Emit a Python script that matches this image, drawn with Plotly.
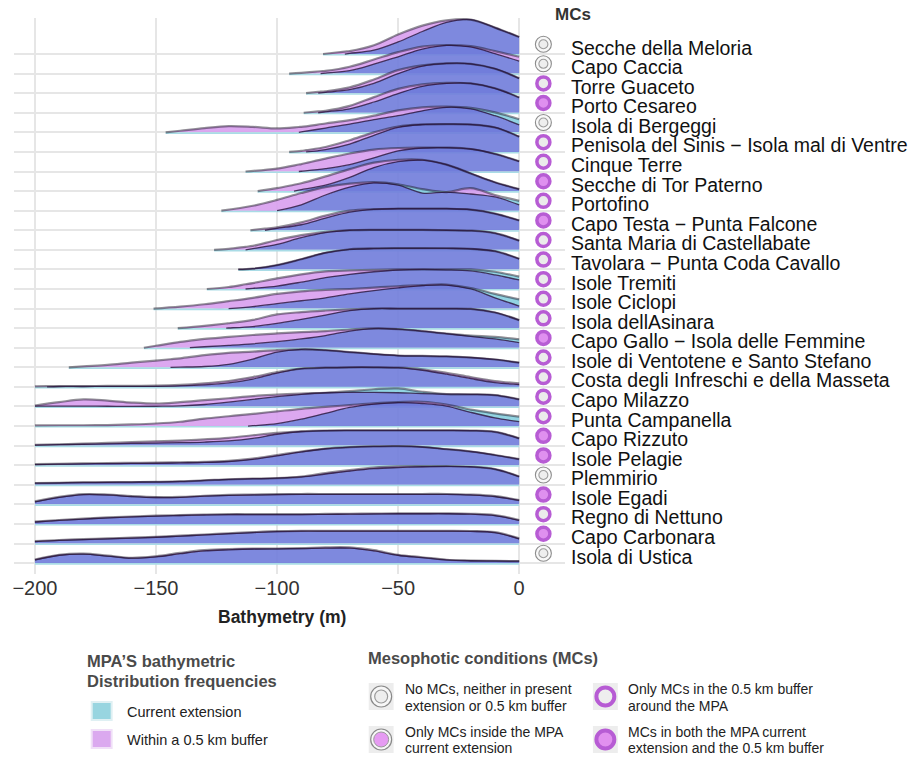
import numpy as np
import plotly.graph_objects as go

_ = None

# Bathymetry grid (m) on which the ridge heights were read
DEPTH = [-200, -190, -180, -170, -160, -150, -140, -130, -120, -110, -100,
         -90, -80, -70, -60, -50, -40, -30, -20, -10, 0]
X_TICKS = [-200, -150, -100, -50, 0]
X_TICK_TEXT = ["\u2212200", "\u2212150", "\u2212100", "\u221250", "0"]

MPA = [
    "Secche della Meloria", "Capo Caccia", "Torre Guaceto", "Porto Cesareo",
    "Isola di Bergeggi", "Penisola del Sinis \u2212 Isola mal di Ventre",
    "Cinque Terre", "Secche di Tor Paterno", "Portofino",
    "Capo Testa \u2212 Punta Falcone", "Santa Maria di Castellabate",
    "Tavolara \u2212 Punta Coda Cavallo", "Isole Tremiti", "Isole Ciclopi",
    "Isola dellAsinara", "Capo Gallo \u2212 Isola delle Femmine",
    "Isole di Ventotene e Santo Stefano", "Costa degli Infreschi e della Masseta",
    "Capo Milazzo", "Punta Campanella", "Capo Rizzuto", "Isole Pelagie",
    "Plemmirio", "Isole Egadi", "Regno di Nettuno", "Capo Carbonara",
    "Isola di Ustica",
]

# none / buffer / both
MC_CLASS = [
    "none", "none", "buffer", "both", "none", "buffer", "buffer", "both",
    "buffer", "both", "buffer", "buffer", "buffer", "buffer", "buffer", "both",
    "buffer", "buffer", "buffer", "buffer", "both", "both", "none", "both",
    "buffer", "both", "none",
]

# shallowest-start depth of each density (None = starts at first listed depth)
BUF_START = [-81, -95, -88, -89, -146, -95, -113, -108, -123, -111, -126, -116,
             -129, -151, -141, -155, -186, _, _, _, _, _, _, _, _, _, _]
CUR_START = [-72, -82, -83, -83, -91, -88, -91, -93, -100, -105, -113, -116,
             -113, -120, -121, -136, -144, -195, _, -112, _, _, _, _, _, _, _]

# Density heights (in row units) within a 0.5 km buffer
BUF = [
    [_, _, _, _, _, _, _, _, _, _, _, _, _, 0.15, 0.45, 1.00, 1.45, 1.72, 1.76, 1.35, 0.87],
    [_, _, _, _, _, _, _, _, _, _, _, 0.04, 0.14, 0.35, 0.72, 1.10, 1.38, 1.46, 1.40, 1.15, 0.86],
    [_, _, _, _, _, _, _, _, _, _, _, _, 0.10, 0.30, 0.70, 1.18, 1.42, 1.52, 1.50, 1.25, 0.76],
    [_, _, _, _, _, _, _, _, _, _, _, _, 0.10, 0.35, 0.80, 1.22, 1.45, 1.53, 1.50, 1.25, 0.78],
    [_, _, _, _, _, _, 0.08, 0.22, 0.32, 0.28, 0.20, 0.28, 0.45, 0.62, 0.85, 1.12, 1.28, 1.31, 1.20, 0.85, 0.38],
    [_, _, _, _, _, _, _, _, _, _, _, 0.05, 0.25, 0.60, 1.00, 1.30, 1.40, 1.42, 1.40, 1.25, 0.78],
    [_, _, _, _, _, _, _, _, _, _, 0.15, 0.38, 0.66, 0.92, 1.12, 1.20, 1.22, 1.22, 1.15, 0.90, 0.52],
    [_, _, _, _, _, _, _, _, _, _, 0.15, 0.40, 0.75, 1.12, 1.45, 1.60, 1.60, 1.35, 0.90, 0.45, 0.10],
    [_, _, _, _, _, _, _, _, _, 0.25, 0.55, 0.90, 1.20, 1.38, 1.46, 1.30, 0.90, 0.95, 1.15, 0.80, 0.29],
    [_, _, _, _, _, _, _, _, _, _, 0.15, 0.40, 0.75, 1.00, 1.08, 1.10, 1.10, 1.10, 1.05, 0.85, 0.50],
    [_, _, _, _, _, _, _, _, 0.05, 0.20, 0.50, 0.75, 0.92, 1.00, 1.02, 1.02, 1.02, 1.00, 0.98, 0.85, 0.47],
    [_, _, _, _, _, _, _, _, _, 0.04, 0.22, 0.52, 0.85, 1.02, 1.06, 1.07, 1.07, 1.07, 1.05, 0.93, 0.54],
    [_, _, _, _, _, _, _, _, 0.10, 0.30, 0.54, 0.75, 0.90, 0.95, 0.98, 1.00, 1.00, 0.98, 0.92, 0.72, 0.46],
    [_, _, _, _, _, _, 0.10, 0.22, 0.38, 0.55, 0.75, 0.88, 0.95, 1.00, 1.07, 1.14, 1.20, 1.23, 1.00, 0.55, 0.13],
    [_, _, _, _, _, _, _, 0.12, 0.25, 0.42, 0.70, 0.82, 0.90, 0.96, 1.00, 1.00, 1.00, 1.00, 0.98, 0.80, 0.41],
    [_, _, _, _, _, 0.10, 0.30, 0.45, 0.55, 0.65, 0.73, 0.80, 0.85, 0.93, 0.99, 0.95, 0.85, 0.72, 0.58, 0.45, 0.26],
    [_, _, 0.05, 0.12, 0.24, 0.34, 0.46, 0.62, 0.74, 0.80, 0.88, 0.92, 0.88, 0.78, 0.68, 0.60, 0.58, 0.56, 0.50, 0.40, 0.24],
    [0.03, 0.04, 0.04, 0.05, 0.05, 0.06, 0.10, 0.18, 0.30, 0.50, 0.75, 0.93, 0.98, 1.00, 1.00, 0.98, 0.90, 0.72, 0.50, 0.30, 0.18],
    [0.05, 0.22, 0.36, 0.30, 0.20, 0.15, 0.22, 0.32, 0.42, 0.53, 0.60, 0.66, 0.70, 0.72, 0.72, 0.70, 0.66, 0.63, 0.62, 0.58, 0.36],
    [0.03, 0.04, 0.04, 0.05, 0.08, 0.13, 0.22, 0.38, 0.50, 0.62, 0.75, 0.88, 0.98, 1.07, 1.16, 1.22, 1.24, 1.10, 0.70, 0.42, 0.22],
    [0.04, 0.07, 0.10, 0.14, 0.18, 0.22, 0.26, 0.32, 0.40, 0.53, 0.65, 0.73, 0.77, 0.78, 0.78, 0.78, 0.78, 0.78, 0.77, 0.70, 0.37],
    [0.05, 0.07, 0.09, 0.11, 0.12, 0.13, 0.15, 0.17, 0.22, 0.34, 0.52, 0.70, 0.85, 0.92, 0.96, 0.97, 0.93, 0.82, 0.70, 0.52, 0.31],
    [0.08, 0.10, 0.12, 0.13, 0.14, 0.15, 0.17, 0.22, 0.28, 0.31, 0.34, 0.42, 0.60, 0.75, 0.88, 0.94, 0.95, 0.95, 0.92, 0.80, 0.42],
    [0.15, 0.38, 0.52, 0.50, 0.42, 0.37, 0.38, 0.44, 0.48, 0.50, 0.52, 0.53, 0.53, 0.53, 0.53, 0.53, 0.53, 0.53, 0.50, 0.42, 0.22],
    [0.12, 0.20, 0.27, 0.33, 0.38, 0.42, 0.45, 0.48, 0.50, 0.50, 0.50, 0.50, 0.51, 0.52, 0.53, 0.54, 0.54, 0.54, 0.52, 0.45, 0.20],
    [0.12, 0.18, 0.22, 0.26, 0.30, 0.34, 0.40, 0.46, 0.52, 0.58, 0.63, 0.65, 0.65, 0.65, 0.65, 0.65, 0.65, 0.65, 0.64, 0.58, 0.26],
    [0.18, 0.42, 0.48, 0.38, 0.27, 0.35, 0.52, 0.66, 0.72, 0.74, 0.74, 0.76, 0.80, 0.80, 0.66, 0.42, 0.30, 0.17, 0.13, 0.11, 0.10],
]

# Density heights (in row units) in the current MPA extension
CUR = [
    [_, _, _, _, _, _, _, _, _, _, _, _, _, _, 0.20, 0.62, 1.15, 1.62, 1.76, 1.35, 0.87],
    [_, _, _, _, _, _, _, _, _, _, _, _, _, 0.15, 0.48, 0.86, 1.25, 1.44, 1.36, 1.02, 0.64],
    [_, _, _, _, _, _, _, _, _, _, _, _, _, 0.18, 0.50, 1.00, 1.38, 1.52, 1.50, 1.25, 0.76],
    [_, _, _, _, _, _, _, _, _, _, _, _, _, 0.20, 0.55, 0.98, 1.35, 1.50, 1.50, 1.25, 0.78],
    [_, _, _, _, _, _, _, _, _, _, _, _, 0.22, 0.42, 0.65, 0.85, 1.10, 1.28, 1.25, 1.02, 0.67],
    [_, _, _, _, _, _, _, _, _, _, _, _, 0.12, 0.40, 0.85, 1.25, 1.40, 1.42, 1.40, 1.25, 0.78],
    [_, _, _, _, _, _, _, _, _, _, _, _, 0.15, 0.35, 0.70, 1.05, 1.20, 1.22, 1.15, 0.90, 0.52],
    [_, _, _, _, _, _, _, _, _, _, _, _, 0.30, 0.70, 1.20, 1.50, 1.58, 1.35, 0.90, 0.45, 0.10],
    [_, _, _, _, _, _, _, _, _, _, _, 0.30, 0.80, 1.20, 1.42, 1.35, 1.10, 0.95, 0.85, 0.70, 0.50],
    [_, _, _, _, _, _, _, _, _, _, _, 0.28, 0.62, 0.93, 1.07, 1.10, 1.10, 1.10, 1.05, 0.85, 0.50],
    [_, _, _, _, _, _, _, _, _, _, 0.28, 0.62, 0.88, 1.00, 1.02, 1.02, 1.02, 1.00, 0.98, 0.85, 0.47],
    [_, _, _, _, _, _, _, _, _, 0.04, 0.22, 0.52, 0.85, 1.03, 1.08, 1.09, 1.09, 1.08, 1.05, 0.93, 0.54],
    [_, _, _, _, _, _, _, _, _, _, 0.15, 0.35, 0.58, 0.75, 0.88, 0.97, 1.00, 1.00, 1.00, 0.88, 0.63],
    [_, _, _, _, _, _, _, _, _, 0.10, 0.25, 0.40, 0.55, 0.75, 0.92, 1.06, 1.17, 1.20, 1.05, 0.75, 0.47],
    [_, _, _, _, _, _, _, _, _, 0.08, 0.24, 0.45, 0.67, 0.90, 1.00, 1.00, 1.00, 1.00, 0.98, 0.80, 0.41],
    [_, _, _, _, _, _, _, 0.05, 0.12, 0.20, 0.31, 0.45, 0.62, 0.85, 0.98, 0.95, 0.85, 0.72, 0.62, 0.55, 0.43],
    [_, _, _, _, _, _, _, 0.04, 0.15, 0.42, 0.78, 0.92, 0.88, 0.78, 0.68, 0.60, 0.58, 0.56, 0.50, 0.40, 0.24],
    [_, 0.02, 0.02, 0.03, 0.03, 0.03, 0.05, 0.10, 0.20, 0.40, 0.70, 0.93, 0.98, 1.00, 1.00, 0.98, 0.85, 0.65, 0.42, 0.22, 0.12],
    [0.02, 0.02, 0.02, 0.01, 0.00, 0.01, 0.03, 0.10, 0.22, 0.36, 0.50, 0.62, 0.70, 0.78, 0.88, 0.92, 0.75, 0.63, 0.62, 0.58, 0.36],
    [_, _, _, _, _, _, _, _, _, _, 0.12, 0.35, 0.65, 0.95, 1.12, 1.20, 1.15, 1.02, 0.84, 0.65, 0.48],
    [0.03, 0.05, 0.07, 0.09, 0.11, 0.13, 0.15, 0.18, 0.24, 0.37, 0.58, 0.72, 0.77, 0.78, 0.78, 0.78, 0.78, 0.78, 0.77, 0.70, 0.37],
    [0.03, 0.05, 0.07, 0.08, 0.09, 0.10, 0.12, 0.14, 0.19, 0.30, 0.48, 0.68, 0.84, 0.92, 0.96, 0.97, 0.93, 0.82, 0.70, 0.52, 0.31],
    [0.08, 0.10, 0.12, 0.13, 0.14, 0.15, 0.17, 0.22, 0.28, 0.31, 0.34, 0.40, 0.55, 0.70, 0.82, 0.88, 0.92, 0.94, 0.92, 0.80, 0.42],
    [0.13, 0.36, 0.50, 0.48, 0.40, 0.35, 0.36, 0.42, 0.46, 0.48, 0.50, 0.51, 0.51, 0.51, 0.51, 0.51, 0.51, 0.51, 0.48, 0.40, 0.20],
    [0.10, 0.18, 0.25, 0.31, 0.36, 0.40, 0.43, 0.46, 0.48, 0.48, 0.48, 0.48, 0.49, 0.50, 0.51, 0.52, 0.52, 0.52, 0.50, 0.43, 0.18],
    [0.10, 0.16, 0.20, 0.24, 0.28, 0.32, 0.38, 0.44, 0.50, 0.56, 0.61, 0.63, 0.63, 0.63, 0.63, 0.63, 0.63, 0.63, 0.62, 0.56, 0.24],
    [0.16, 0.40, 0.46, 0.36, 0.25, 0.32, 0.48, 0.62, 0.68, 0.72, 0.73, 0.74, 0.76, 0.76, 0.62, 0.40, 0.28, 0.16, 0.12, 0.11, 0.10],
]

# ---------------------------------------------------------------- styling
FONT = "Liberation Sans, Arial, Helvetica, sans-serif"
C_BLUE = "rgba(112,124,218,0.90)"
C_VIOLET = "rgba(216,158,238,0.90)"
C_CYAN = "rgba(134,207,223,0.90)"
LINE_HI = "rgba(25,20,35,0.48)"
LINE_LO = "rgba(40,20,60,0.82)"
RING = "#b75cd4"

W, H = 917, 757
PL, PR, PT, PB = 12, 565, 18, 574          # plot-area box in px
X_RANGE = [-208.64, 18.93]
NROW = len(MPA)
Y_RANGE = [-0.557, 27.84]


def PX(p):
    return (p - PL) / (PR - PL)


def PY(p):
    return (PB - p) / (PB - PT)


def curve(start, vals):
    xs, ys = [], []
    if start is not None:
        xs.append(float(start))
        ys.append(0.0)
    for d, v in zip(DEPTH, vals):
        if v is not None:
            xs.append(float(d))
            ys.append(float(v))
    return np.array(xs), np.array(ys)


fig = go.Figure()
common = dict(mode="lines", hoverinfo="skip", showlegend=False)

for i in range(NROW):
    yb = (NROW - 1) - i
    bx, by = curve(BUF_START[i], BUF[i])
    cx, cy = curve(CUR_START[i], CUR[i])
    ux = np.array(sorted(set(bx.tolist()) | set(cx.tolist())))
    bu = np.interp(ux, bx, by, left=0.0)
    cu = np.interp(ux, cx, cy, left=0.0)
    lo = np.minimum(bu, cu)
    hi = np.maximum(bu, cu)
    later = max(bx[0], cx[0])
    sp = dict(width=0, shape="spline", smoothing=1.0)

    fig.add_trace(go.Scatter(x=ux, y=np.full(len(ux), yb), line=sp, **common))
    fig.add_trace(go.Scatter(x=ux, y=yb + lo, line=sp, fill="tonexty",
                             fillcolor=C_BLUE, **common))
    fig.add_trace(go.Scatter(x=ux, y=yb + bu, line=sp, fill="tonexty",
                             fillcolor=C_VIOLET, **common))
    fig.add_trace(go.Scatter(x=ux, y=yb + lo, line=sp, **common))
    fig.add_trace(go.Scatter(x=ux, y=yb + cu, line=sp, fill="tonexty",
                             fillcolor=C_CYAN, **common))
    # light strip along the ridge base
    fig.add_trace(go.Scatter(x=[ux[0], 0], y=[yb - 0.04, yb - 0.04],
                             line=dict(color="#a9dce6", width=1.6), **common))
    # outlines
    fig.add_trace(go.Scatter(x=ux, y=yb + hi,
                             line=dict(color=LINE_HI, width=2.2, shape="spline"),
                             **common))
    m = ux >= later
    fig.add_trace(go.Scatter(x=ux[m], y=yb + lo[m],
                             line=dict(color=LINE_LO, width=1.3, shape="spline"),
                             **common))

# MC markers
rows = np.arange(NROW)
ybase = (NROW - 1) - rows
cls = np.array(MC_CLASS)
mx = 10
sel = cls == "none"
fig.add_trace(go.Scatter(x=[mx] * sel.sum(), y=ybase[sel] + 0.5, mode="markers",
                         marker=dict(size=16, color="#f8f8f8",
                                     line=dict(color="#8c8c8c", width=1.1)),
                         hoverinfo="skip", showlegend=False, cliponaxis=False))
fig.add_trace(go.Scatter(x=[mx] * sel.sum(), y=ybase[sel] + 0.5, mode="markers",
                         marker=dict(size=9, color="#eeeeee",
                                     line=dict(color="#9c9c9c", width=1.1)),
                         hoverinfo="skip", showlegend=False, cliponaxis=False))
sel = cls == "buffer"
fig.add_trace(go.Scatter(x=[mx] * sel.sum(), y=ybase[sel] + 0.5, mode="markers",
                         marker=dict(size=13, color="#ebebeb",
                                     line=dict(color=RING, width=3.5)),
                         hoverinfo="skip", showlegend=False, cliponaxis=False))
sel = cls == "both"
fig.add_trace(go.Scatter(x=[mx] * sel.sum(), y=ybase[sel] + 0.5, mode="markers",
                         marker=dict(size=13, color="#df90ef",
                                     line=dict(color=RING, width=3.5)),
                         hoverinfo="skip", showlegend=False, cliponaxis=False))

ann = []
for i, name in enumerate(MPA):
    ann.append(dict(x=PX(569), y=(NROW - 1) - i + 0.33, xref="paper", yref="y",
                    text=name, showarrow=False, xanchor="left", yanchor="middle",
                    font=dict(family=FONT, size=19.5, color="#111111")))


def txt(x, y, s, size=14, bold=False, color="#222222", anchor="left"):
    ann.append(dict(x=PX(x), y=PY(y), xref="paper", yref="paper",
                    text=("<b>%s</b>" % s) if bold else s, showarrow=False,
                    xanchor=anchor, yanchor="middle",
                    font=dict(family=FONT, size=size, color=color)))


txt(553, 14, "MCs", 17, True, "#333333")
txt(281, 617, "Bathymetry (m)", 17.5, True, "#222222", "center")
txt(83, 661, "MPA\u2019S bathymetric", 16.5, True, "#4a4a4a")
txt(83, 681, "Distribution frequencies", 16.5, True, "#4a4a4a")
txt(123, 711.5, "Current extension", 14.5)
txt(123, 739.5, "Within a 0.5 km buffer", 14.5)
txt(365, 658, "Mesophotic conditions (MCs)", 16.5, True, "#4a4a4a")
txt(402, 689, "No MCs, neither in present", 14)
txt(402, 706, "extension or 0.5 km buffer", 14)
txt(626, 689, "Only MCs in the 0.5 km buffer", 14)
txt(626, 706, "around the MPA", 14)
txt(402, 732, "Only MCs inside the MPA", 14)
txt(402, 748, "current extension", 14)
txt(626, 732, "MCs in both the MPA current", 14)
txt(626, 748, "extension and the 0.5 km buffer", 14)

shapes = []


def rect(x0, y0, x1, y1, fill, line=None, lw=0):
    shapes.append(dict(type="rect", xref="paper", yref="paper",
                       x0=PX(x0), x1=PX(x1), y0=PY(y1), y1=PY(y0),
                       fillcolor=fill, line=dict(color=line or fill, width=lw)))


def circ(cx, cy, r, fill, line, lw):
    shapes.append(dict(type="circle", xref="paper", yref="paper",
                       x0=PX(cx - r), x1=PX(cx + r), y0=PY(cy + r), y1=PY(cy - r),
                       fillcolor=fill, line=dict(color=line, width=lw)))


rect(90, 702, 110, 720, "#98d5e0", "#dff0f3", 2)
rect(90, 730, 110, 748, "#dba9ef", "#f0e0f7", 2)
for (x0, y0) in [(368, 683), (593, 683), (368, 726), (593, 726)]:
    rect(x0, y0, x0 + 25, y0 + 27, "#ededed")
circ(380.5, 696.5, 10.5, "#f7f7f7", "#8a8a8a", 1.2)
circ(380.5, 696.5, 6.5, "#eeeeee", "#9a9a9a", 1.2)
circ(605.5, 696.5, 9, "#eeeeee", RING, 4)
circ(380.5, 739.5, 10.5, "#f7f7f7", "#8a8a8a", 1.2)
circ(380.5, 739.5, 7.5, "#e69bf2", "#9a9a9a", 1)
circ(605.5, 739.5, 9, "#e190ef", RING, 4)

fig.update_layout(
    width=W, height=H, autosize=False,
    margin=dict(l=PL, r=W - PR, t=PT, b=H - PB, pad=0),
    paper_bgcolor="white", plot_bgcolor="white",
    font=dict(family=FONT),
    xaxis=dict(range=X_RANGE, tickvals=X_TICKS, ticktext=X_TICK_TEXT,
               showgrid=True, gridcolor="#e6e6e6", gridwidth=2,
               zeroline=False, showline=False, ticks="",
               tickfont=dict(family=FONT, size=20, color="#333333")),
    yaxis=dict(range=Y_RANGE, tickvals=list(range(NROW)), showticklabels=False,
               showgrid=True, gridcolor="#e6e6e6", gridwidth=2,
               zeroline=False, showline=False),
    annotations=ann, shapes=shapes,
)

fig.write_html("out.html", config={"displayModeBar": False},
               post_script="document.body.style.margin='0px';")
